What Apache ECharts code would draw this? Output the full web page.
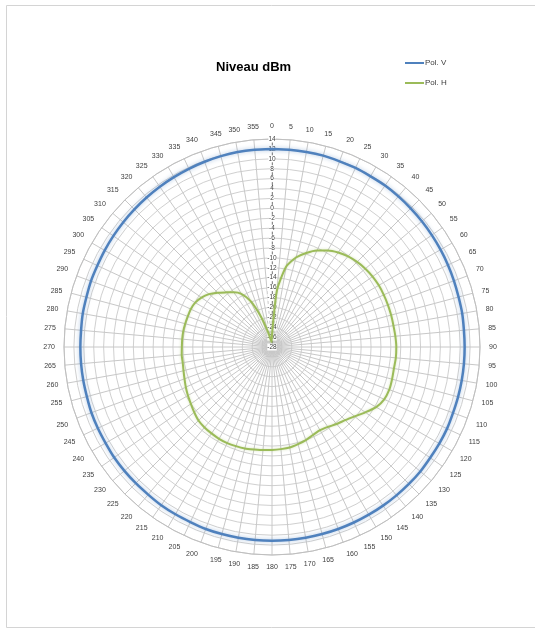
<!DOCTYPE html>
<html>
<head>
<meta charset="utf-8">
<script src="https://cdn.jsdelivr.net/npm/echarts@6/dist/echarts.min.js"></script>
<style>html,body{margin:0;padding:0;background:#fff}#c{width:535px;height:630px}</style>
</head>
<body>
<div id="c"></div>
<script>
// Angles (degrees) of each measurement
var angles = [0,5,10,15,20,25,30,35,40,45,50,55,60,65,70,75,80,85,90,95,100,105,110,115,120,125,130,135,140,145,150,155,160,165,170,175,180,185,190,195,200,205,210,215,220,225,230,235,240,245,250,255,260,265,270,275,280,285,290,295,300,305,310,315,320,325,330,335,340,345,350,355];
// Pol. V levels (dBm)
var polV = [12,12,12,12,11.9,11.9,11.8,11.8,11.7,11.6,11.5,11.4,11.3,11.2,11.1,11,11,10.9,10.9,10.9,10.9,10.9,10.9,11,11,11,11.1,11.1,11.1,11.1,11.1,11.1,11.1,11.1,11.1,11.1,11.1,11.1,11.1,11.1,11.1,11,11,11,10.9,10.9,10.9,10.9,10.8,10.8,10.8,10.7,10.7,10.7,10.7,10.7,10.8,10.8,10.9,10.9,11,11.1,11.2,11.3,11.4,11.5,11.6,11.7,11.8,11.9,12,12];
// Pol. H levels (dBm)
var polH = [-25.5,-16.5,-11.5,-9.3,-7.8,-6.5,-5.5,-4.7,-4.1,-3.7,-3.4,-3.2,-3.1,-3.1,-3.1,-3.1,-3.1,-3.0,-2.9,-2.9,-3.0,-2.9,-2.8,-3.0,-3.7,-5.0,-6.2,-7.1,-7.7,-8.3,-8.6,-8.4,-8.0,-7.7,-7.4,-7.3,-7.2,-7.1,-7.0,-6.8,-6.7,-6.6,-6.6,-6.7,-6.8,-7.0,-7.5,-8.0,-8.4,-8.8,-9.2,-9.5,-9.7,-9.7,-9.8,-9.8,-9.8,-9.85,-9.9,-9.9,-10.1,-10.6,-11.4,-12.5,-13.6,-14.5,-15.6,-17.8,-21.5,-24.8,-26.5,-27];
// Radial tick labels
var radialTicks = [-28,-26,-24,-22,-20,-18,-16,-14,-12,-10,-8,-6,-4,-2,0,2,4,6,8,10,12,14];
var seriesNames = ['Pol. V','Pol. H'];

function closed(vals){
  var d = angles.map(function(a,i){return [vals[i], a];});
  d.push([vals[0], 360]);
  return d;
}

var chart = echarts.init(document.getElementById('c'), null, {renderer:'canvas'});
chart.setOption({
  backgroundColor:'#fff',
  animation:false,
  title:{text:'Niveau dBm', left:211, top:56, textStyle:{fontFamily:'Liberation Sans', fontSize:13, fontWeight:'bold', color:'#000'}},
  legend:{
    data:seriesNames, orient:'vertical', left:400, top:54, itemWidth:19, itemHeight:2, itemGap:12, icon:'rect',
    textStyle:{fontFamily:'Liberation Sans', fontSize:8, color:'#404040', padding:[0,0,0,-4]}
  },
  graphic:[{type:'rect', shape:{x:6.5,y:5.5,width:540,height:622}, style:{fill:'none', stroke:'#d4d4d4', lineWidth:1}, silent:true}],
  polar:{center:[272,347], radius:208},
  angleAxis:{
    type:'value', min:0, max:360, interval:5, startAngle:90, clockwise:true,
    axisLine:{show:true, lineStyle:{color:'#bfbfbf', width:1}},
    axisTick:{show:false},
    splitLine:{show:true, lineStyle:{color:'#c8c8c8', width:1}},
    axisLabel:{show:true, margin:9, fontFamily:'Liberation Sans', fontSize:7, color:'#404040',
      formatter:function(v){ var i = angles.indexOf(v); return i>=0 ? String(angles[i]) : ''; }}
  },
  radiusAxis:{
    type:'value', min:-28, max:14, interval:2,
    axisLine:{show:true, lineStyle:{color:'#8c8c8c', width:1}},
    axisTick:{show:false},
    splitLine:{show:true, lineStyle:{color:'#d0d0d0', width:1}},
    axisLabel:{show:true, margin:0, align:'center', verticalAlign:'middle', fontFamily:'Liberation Sans', fontSize:6.5, color:'#404040', backgroundColor:'#fff', padding:[0,0],
      formatter:function(v){ var i = radialTicks.indexOf(v); return i>=0 ? String(radialTicks[i]) : ''; }}
  },
  series:[
    {name:seriesNames[0], type:'line', coordinateSystem:'polar', showSymbol:false, symbol:'none', data:closed(polV), smooth:0.2,
      lineStyle:{color:'#4F81BD', width:2.5, shadowBlur:4, shadowColor:'rgba(79,129,189,0.45)'}, itemStyle:{color:'#4F81BD'}},
    {name:seriesNames[1], type:'line', coordinateSystem:'polar', showSymbol:false, symbol:'none', data:closed(polH), smooth:0.2,
      lineStyle:{color:'#9BBB59', width:2, shadowBlur:3, shadowColor:'rgba(155,187,89,0.4)'}, itemStyle:{color:'#9BBB59'}}
  ]
});
</script>
</body>
</html>
